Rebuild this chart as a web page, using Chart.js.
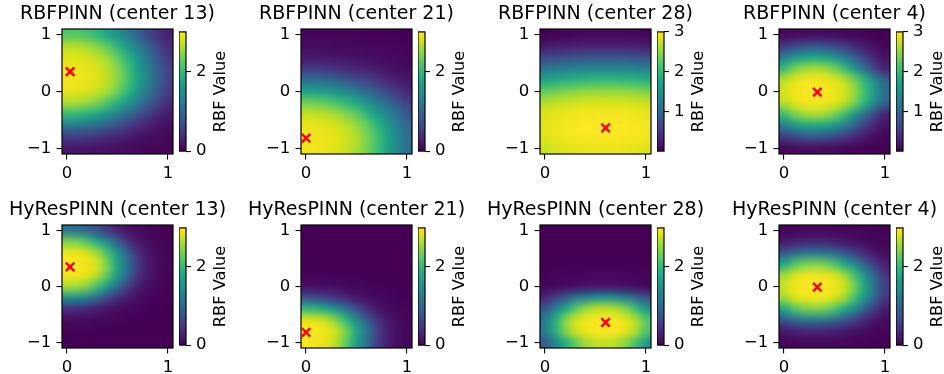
<!DOCTYPE html>
<html>
<head>
<meta charset="utf-8">
<script src="https://cdn.jsdelivr.net/npm/chart.js@4.4.1/dist/chart.umd.min.js"></script>
<style>
  body { margin: 0; background: #fff; }
  #fig { position: relative; width: 944px; height: 374px; overflow: hidden; background: #fff; }
  #fig canvas { position: absolute; }
</style>
</head>
<body>
<div id="fig"></div>
<script>
// cell centres of the 11 x 11 grids (rows go from y = 1 down to y = -1)
var xCells = [0, 0.1, 0.2, 0.3, 0.4, 0.5, 0.6, 0.7, 0.8, 0.9, 1];
var yCells = [1, 0.8, 0.6, 0.4, 0.2, 0, -0.2, -0.4, -0.6, -0.8, -1];
var xTicks = [0, 1];
var yTicks = [-1, 0, 1];

var models = ['RBFPINN', 'HyResPINN'];
var centerIds = [13, 21, 28, 4];
var centerX = [0.03, 0.0, 0.6, 0.33];
var centerY = [0.35, -0.82, -0.64, -0.01];

// colorbar ranges and ticks, per row
var cbMin = [[0, 0, 0.024, 0.02], [0, 0, 0, 0]];
var cbMax = [[3.0, 3.0, 3.0, 3.0], [2.99, 2.99, 2.99, 2.99]];
var cbTicks = [[[0, 2], [0, 2], [1, 2, 3], [1, 2, 3]], [[0, 2], [0, 2], [0, 2], [0, 2]]];

// RBF values
var rbf13 = [
  [2.2, 2.2, 2.1, 1.96, 1.74, 1.48, 1.22, 0.94, 0.64, 0.42, 0.26],
  [2.66, 2.65, 2.57, 2.43, 2.22, 1.94, 1.6, 1.27, 0.94, 0.62, 0.38],
  [2.85, 2.84, 2.8, 2.7, 2.53, 2.27, 1.92, 1.52, 1.16, 0.8, 0.5],
  [2.94, 2.93, 2.9, 2.81, 2.68, 2.44, 2.1, 1.69, 1.3, 0.92, 0.58],
  [2.95, 2.94, 2.91, 2.83, 2.7, 2.47, 2.13, 1.73, 1.32, 0.94, 0.6],
  [2.87, 2.86, 2.82, 2.73, 2.57, 2.31, 1.96, 1.56, 1.19, 0.83, 0.52],
  [2.62, 2.6, 2.52, 2.39, 2.16, 1.89, 1.56, 1.24, 0.91, 0.6, 0.37],
  [1.99, 1.97, 1.88, 1.73, 1.53, 1.31, 1.06, 0.79, 0.55, 0.36, 0.21],
  [1.21, 1.19, 1.13, 1.03, 0.88, 0.71, 0.55, 0.38, 0.27, 0.18, 0.11],
  [0.54, 0.53, 0.49, 0.43, 0.36, 0.29, 0.22, 0.17, 0.11, 0.08, 0.06],
  [0.18, 0.18, 0.17, 0.15, 0.13, 0.11, 0.09, 0.07, 0.05, 0.04, 0.03]
];
var rbf21 = [
  [0.04, 0.04, 0.03, 0.03, 0.03, 0.03, 0.02, 0.02, 0.02, 0.01, 0.01],
  [0.09, 0.08, 0.08, 0.07, 0.07, 0.06, 0.05, 0.04, 0.04, 0.03, 0.02],
  [0.2, 0.2, 0.19, 0.18, 0.16, 0.14, 0.12, 0.1, 0.08, 0.07, 0.05],
  [0.51, 0.5, 0.47, 0.43, 0.37, 0.33, 0.27, 0.21, 0.17, 0.12, 0.09],
  [1.07, 1.06, 1.01, 0.93, 0.82, 0.7, 0.58, 0.46, 0.35, 0.26, 0.18],
  [1.71, 1.69, 1.62, 1.51, 1.39, 1.23, 1.05, 0.86, 0.64, 0.48, 0.35],
  [2.35, 2.33, 2.25, 2.13, 1.97, 1.77, 1.53, 1.3, 1.05, 0.8, 0.57],
  [2.73, 2.71, 2.67, 2.59, 2.43, 2.26, 1.98, 1.68, 1.39, 1.1, 0.81],
  [2.9, 2.9, 2.85, 2.79, 2.69, 2.52, 2.3, 1.98, 1.64, 1.32, 1.01],
  [2.95, 2.94, 2.92, 2.87, 2.77, 2.65, 2.41, 2.11, 1.77, 1.41, 1.1],
  [2.94, 2.93, 2.9, 2.84, 2.75, 2.61, 2.38, 2.08, 1.74, 1.39, 1.07]
];
var rbf28 = [
  [0.03, 0.05, 0.06, 0.07, 0.08, 0.08, 0.08, 0.08, 0.08, 0.07, 0.06],
  [0.22, 0.25, 0.27, 0.29, 0.3, 0.3, 0.3, 0.3, 0.3, 0.29, 0.27],
  [0.65, 0.7, 0.74, 0.77, 0.79, 0.81, 0.81, 0.81, 0.79, 0.77, 0.74],
  [1.19, 1.25, 1.31, 1.35, 1.38, 1.39, 1.4, 1.39, 1.38, 1.35, 1.31],
  [1.74, 1.82, 1.89, 1.94, 1.97, 2.0, 2.0, 2.0, 1.97, 1.94, 1.89],
  [2.27, 2.36, 2.42, 2.47, 2.51, 2.52, 2.53, 2.52, 2.51, 2.47, 2.42],
  [2.65, 2.71, 2.76, 2.79, 2.82, 2.83, 2.83, 2.83, 2.82, 2.79, 2.76],
  [2.82, 2.87, 2.9, 2.93, 2.95, 2.96, 2.96, 2.96, 2.95, 2.93, 2.9],
  [2.87, 2.93, 2.96, 2.98, 2.99, 3.0, 3.0, 3.0, 2.99, 2.98, 2.96],
  [2.86, 2.91, 2.95, 2.97, 2.98, 2.99, 2.99, 2.99, 2.98, 2.97, 2.95],
  [2.76, 2.81, 2.85, 2.88, 2.9, 2.91, 2.91, 2.91, 2.9, 2.88, 2.85]
];
var rbf4 = [
  [0.08, 0.1, 0.11, 0.12, 0.11, 0.1, 0.08, 0.06, 0.04, 0.03, 0.02],
  [0.52, 0.66, 0.77, 0.81, 0.77, 0.66, 0.52, 0.36, 0.22, 0.13, 0.07],
  [1.28, 1.55, 1.72, 1.78, 1.72, 1.55, 1.28, 0.93, 0.58, 0.32, 0.16],
  [2.05, 2.38, 2.56, 2.62, 2.56, 2.38, 2.05, 1.58, 1.1, 0.63, 0.31],
  [2.68, 2.85, 2.93, 2.95, 2.93, 2.85, 2.68, 2.37, 1.92, 1.41, 0.95],
  [2.8, 2.93, 2.98, 3.0, 2.98, 2.93, 2.8, 2.52, 2.08, 1.56, 1.07],
  [2.68, 2.85, 2.93, 2.95, 2.93, 2.85, 2.68, 2.37, 1.92, 1.41, 0.95],
  [2.05, 2.38, 2.56, 2.62, 2.56, 2.38, 2.05, 1.58, 1.1, 0.63, 0.31],
  [1.28, 1.55, 1.72, 1.78, 1.72, 1.55, 1.28, 0.93, 0.58, 0.32, 0.16],
  [0.52, 0.66, 0.77, 0.81, 0.77, 0.66, 0.52, 0.36, 0.22, 0.13, 0.07],
  [0.08, 0.1, 0.11, 0.12, 0.11, 0.1, 0.08, 0.06, 0.04, 0.03, 0.02]
];
var hy13 = [
  [1.13, 1.1, 0.96, 0.74, 0.5, 0.3, 0.16, 0.09, 0.05, 0.02, 0.01],
  [2.4, 2.35, 2.15, 1.8, 1.38, 0.9, 0.46, 0.22, 0.1, 0.04, 0.02],
  [2.9, 2.88, 2.78, 2.55, 2.1, 1.5, 0.9, 0.42, 0.18, 0.08, 0.03],
  [2.98, 2.97, 2.92, 2.78, 2.38, 1.75, 1.1, 0.52, 0.22, 0.09, 0.04],
  [2.94, 2.92, 2.84, 2.64, 2.2, 1.6, 0.98, 0.45, 0.2, 0.08, 0.03],
  [2.6, 2.56, 2.4, 2.05, 1.58, 1.05, 0.56, 0.26, 0.11, 0.05, 0.02],
  [1.5, 1.45, 1.3, 1.0, 0.68, 0.4, 0.22, 0.11, 0.05, 0.02, 0.01],
  [0.4, 0.38, 0.33, 0.26, 0.17, 0.11, 0.07, 0.04, 0.02, 0.01, 0],
  [0.09, 0.09, 0.08, 0.06, 0.04, 0.03, 0.02, 0.01, 0, 0, 0],
  [0.02, 0.02, 0.02, 0.01, 0.01, 0, 0, 0, 0, 0, 0],
  [0, 0, 0, 0, 0, 0, 0, 0, 0, 0, 0]
];
var hy21 = [
  [0, 0, 0, 0, 0, 0, 0, 0, 0, 0, 0],
  [0, 0, 0, 0, 0, 0, 0, 0, 0, 0, 0],
  [0, 0, 0, 0, 0, 0, 0, 0, 0, 0, 0],
  [0, 0, 0, 0, 0, 0, 0, 0, 0, 0, 0],
  [0.03, 0.03, 0.02, 0.02, 0.01, 0.01, 0, 0, 0, 0, 0],
  [0.14, 0.13, 0.12, 0.1, 0.07, 0.05, 0.03, 0.02, 0.01, 0.01, 0],
  [0.7, 0.66, 0.57, 0.44, 0.31, 0.2, 0.12, 0.07, 0.04, 0.02, 0.01],
  [2.0, 1.92, 1.74, 1.46, 1.1, 0.72, 0.4, 0.21, 0.1, 0.05, 0.03],
  [2.85, 2.82, 2.68, 2.4, 1.95, 1.42, 0.9, 0.46, 0.22, 0.1, 0.05],
  [2.98, 2.96, 2.9, 2.74, 2.35, 1.78, 1.18, 0.62, 0.28, 0.12, 0.06],
  [2.95, 2.93, 2.85, 2.65, 2.22, 1.65, 1.08, 0.56, 0.25, 0.11, 0.06]
];
var hy28 = [
  [0, 0, 0, 0, 0, 0, 0, 0, 0, 0, 0],
  [0, 0, 0, 0, 0, 0, 0, 0, 0, 0, 0],
  [0, 0, 0, 0, 0, 0, 0, 0, 0, 0, 0],
  [0, 0, 0, 0, 0, 0, 0, 0, 0, 0, 0],
  [0.02, 0.03, 0.04, 0.05, 0.06, 0.07, 0.07, 0.07, 0.06, 0.05, 0.04],
  [0.04, 0.06, 0.09, 0.12, 0.15, 0.17, 0.17, 0.16, 0.14, 0.1, 0.07],
  [0.31, 0.55, 0.84, 1.12, 1.33, 1.46, 1.49, 1.42, 1.25, 1.01, 0.71],
  [0.8, 1.3, 1.8, 2.22, 2.52, 2.68, 2.7, 2.62, 2.42, 2.05, 1.58],
  [1.25, 1.85, 2.4, 2.75, 2.9, 2.96, 2.97, 2.95, 2.85, 2.62, 2.18],
  [1.25, 1.85, 2.4, 2.75, 2.9, 2.96, 2.97, 2.95, 2.85, 2.62, 2.18],
  [0.85, 1.35, 1.85, 2.25, 2.55, 2.7, 2.72, 2.65, 2.45, 2.1, 1.6]
];
var hy4 = [
  [0.05, 0.06, 0.07, 0.07, 0.07, 0.06, 0.05, 0.04, 0.03, 0.02, 0.01],
  [0.2, 0.26, 0.31, 0.32, 0.31, 0.26, 0.2, 0.14, 0.1, 0.06, 0.04],
  [0.79, 1.0, 1.14, 1.19, 1.14, 1.0, 0.79, 0.56, 0.33, 0.18, 0.1],
  [1.8, 2.15, 2.35, 2.4, 2.35, 2.15, 1.8, 1.38, 0.92, 0.5, 0.25],
  [2.55, 2.8, 2.9, 2.92, 2.9, 2.8, 2.55, 2.08, 1.5, 0.93, 0.46],
  [2.75, 2.92, 2.97, 2.98, 2.97, 2.92, 2.75, 2.35, 1.72, 1.1, 0.58],
  [2.55, 2.8, 2.9, 2.92, 2.9, 2.8, 2.55, 2.08, 1.5, 0.93, 0.46],
  [1.8, 2.15, 2.35, 2.4, 2.35, 2.15, 1.8, 1.38, 0.92, 0.5, 0.25],
  [0.79, 1.0, 1.14, 1.19, 1.14, 1.0, 0.79, 0.56, 0.33, 0.18, 0.1],
  [0.2, 0.26, 0.31, 0.32, 0.31, 0.26, 0.2, 0.14, 0.1, 0.06, 0.04],
  [0.05, 0.06, 0.07, 0.07, 0.07, 0.06, 0.05, 0.04, 0.03, 0.02, 0.01]
];
var panelGrids = [[rbf13, rbf21, rbf28, rbf4], [hy13, hy21, hy28, hy4]];

// layout of the figure
var colLeft = [62, 301, 540, 779];
var rowTop = [29, 225];
var rowH = [125, 123];
var plotW = 111;
var cbGap = 117, cbW = 7;

var viridis = ['#440154', '#471365', '#482475', '#463480', '#414487', '#3b528b', '#355f8d',
  '#2f6c8e', '#2a788e', '#25848e', '#21918c', '#1e9c89', '#22a884', '#2fb47c', '#44bf70',
  '#5ec962', '#7ad151', '#9bd93c', '#bddf26', '#dfe318', '#fde725'];
var virRgb = viridis.map(function(h) {
  return [parseInt(h.substr(1, 2), 16), parseInt(h.substr(3, 2), 16), parseInt(h.substr(5, 2), 16)];
});
function colorAt(t) {
  t = Math.max(0, Math.min(1, t)) * (virRgb.length - 1);
  var i = Math.min(Math.floor(t), virRgb.length - 2), f = t - i;
  return [0, 1, 2].map(function(k) { return Math.round(virRgb[i][k] + (virRgb[i + 1][k] - virRgb[i][k]) * f); });
}

Chart.defaults.font.family = "'DejaVu Sans', sans-serif";
Chart.defaults.color = '#000';

var fig = document.getElementById('fig');
var halfX = (xCells[1] - xCells[0]) / 2;
var halfY = (yCells[0] - yCells[1]) / 2;
var tickFont = { size: 16.5 };

function fmt(v) { return v < 0 ? '\u2212' + Math.abs(v) : String(v); }

function addCanvas(left, top, w, h) {
  var c = document.createElement('canvas');
  c.width = w; c.height = h;
  c.style.left = left + 'px'; c.style.top = top + 'px';
  c.style.width = w + 'px'; c.style.height = h + 'px';
  fig.appendChild(c);
  return c;
}

// draws the grid as an image (bilinear) into the data extent, then the frame
function heatPlugin(grid, vmin, vmax) {
  return {
    id: 'heat',
    beforeDatasetsDraw: function(chart) {
      var rows = grid.length, cols = grid[0].length;
      var off = document.createElement('canvas');
      off.width = cols; off.height = rows;
      var octx = off.getContext('2d');
      var img = octx.createImageData(cols, rows);
      for (var r = 0; r < rows; r++) {
        for (var c = 0; c < cols; c++) {
          var rgb = colorAt((grid[r][c] - vmin) / (vmax - vmin));
          var k = (r * cols + c) * 4;
          img.data[k] = rgb[0]; img.data[k + 1] = rgb[1]; img.data[k + 2] = rgb[2]; img.data[k + 3] = 255;
        }
      }
      octx.putImageData(img, 0, 0);
      var xs = chart.scales.x, ys = chart.scales.y;
      var x0 = xs.getPixelForValue(xCells[0] - halfX), x1 = xs.getPixelForValue(xCells[cols - 1] + halfX);
      var y0 = ys.getPixelForValue(yCells[0] + halfY), y1 = ys.getPixelForValue(yCells[rows - 1] - halfY);
      var ctx = chart.ctx, a = chart.chartArea;
      ctx.save();
      ctx.imageSmoothingEnabled = true;
      ctx.imageSmoothingQuality = 'high';
      ctx.drawImage(off, x0, y0, x1 - x0, y1 - y0);
      ctx.strokeStyle = '#000';
      ctx.lineWidth = 1.2;
      ctx.strokeRect(a.left, a.top, a.right - a.left, a.bottom - a.top);
      ctx.restore();
    }
  };
}

function barPlugin(vmin, vmax) {
  return {
    id: 'bar',
    afterDraw: function(chart) {
      var ctx = chart.ctx, a = chart.chartArea;
      var g = ctx.createLinearGradient(0, a.bottom, 0, a.top);
      viridis.forEach(function(col, i) { g.addColorStop(i / (viridis.length - 1), col); });
      ctx.save();
      ctx.fillStyle = g;
      ctx.fillRect(a.left, a.top, a.right - a.left, a.bottom - a.top);
      ctx.strokeStyle = '#000';
      ctx.lineWidth = 1.2;
      ctx.strokeRect(a.left, a.top, a.right - a.left, a.bottom - a.top);
      // colorbar label, reading bottom to top
      ctx.translate(a.right + 35, (a.top + a.bottom) / 2);
      ctx.rotate(-Math.PI / 2);
      ctx.fillStyle = '#000';
      ctx.font = "16.2px 'DejaVu Sans'";
      ctx.textAlign = 'center';
      ctx.textBaseline = 'middle';
      ctx.fillText('RBF Value', 0, 0);
      ctx.restore();
    }
  };
}

function makePanel(row, col) {
  var ph = rowH[row];
  var W = 57 + plotW + 57, H = 30 + ph + 34;
  var cv = addCanvas(colLeft[col] - 57, rowTop[row] - 30, W, H);
  new Chart(cv, {
    type: 'scatter',
    data: {
      datasets: [{
        data: [{ x: centerX[col], y: centerY[col] }],
        pointStyle: 'crossRot',
        pointRadius: 6,
        borderColor: '#ff0000',
        backgroundColor: '#ff0000',
        borderWidth: 2.5
      }]
    },
    options: {
      responsive: false,
      animation: false,
      devicePixelRatio: 1,
      events: [],
      layout: { padding: 0 },
      plugins: {
        legend: { display: false },
        tooltip: { enabled: false },
        title: {
          display: true,
          text: models[row] + ' (center ' + centerIds[col] + ')',
          font: { size: 19, weight: 'normal' },
          color: '#000',
          padding: { top: 3.6, bottom: 3.6 }
        }
      },
      scales: {
        x: {
          type: 'linear',
          min: xCells[0] - halfX,
          max: xCells[xCells.length - 1] + halfX,
          afterBuildTicks: function(s) { s.ticks = xTicks.map(function(v) { return { value: v }; }); },
          afterFit: function(s) { s.height = 34; },
          grid: { drawOnChartArea: false, drawTicks: true, tickLength: 5.5, color: '#000', lineWidth: 1.1 },
          border: { display: false },
          ticks: { font: tickFont, color: '#000', padding: 4.6, maxRotation: 0, autoSkip: false, callback: fmt }
        },
        y: {
          type: 'linear',
          min: yCells[yCells.length - 1] - halfY,
          max: yCells[0] + halfY,
          afterBuildTicks: function(s) { s.ticks = yTicks.map(function(v) { return { value: v }; }); },
          afterFit: function(s) { s.width = 57; },
          grid: { drawOnChartArea: false, drawTicks: true, tickLength: 5.5, color: '#000', lineWidth: 1.1 },
          border: { display: false },
          ticks: { font: tickFont, color: '#000', padding: 5.2, autoSkip: false, callback: fmt }
        },
        yr: {
          type: 'linear',
          position: 'right',
          display: true,
          ticks: { display: false },
          grid: { display: false },
          border: { display: false },
          afterFit: function(s) { s.width = 57; }
        }
      }
    },
    plugins: [heatPlugin(panelGrids[row][col], cbMin[row][col], cbMax[row][col])]
  });
}

function makeColorbar(row, col) {
  var ph = rowH[row];
  var cv = addCanvas(colLeft[col] + cbGap, rowTop[row] - 12, cbW + 60, ph + 24);
  var ticks = cbTicks[row][col];
  new Chart(cv, {
    type: 'scatter',
    data: { datasets: [] },
    options: {
      responsive: false,
      animation: false,
      devicePixelRatio: 1,
      events: [],
      layout: { padding: { top: 12, bottom: 12, left: 0, right: 0 } },
      plugins: { legend: { display: false }, tooltip: { enabled: false } },
      scales: {
        x: { type: 'linear', display: false },
        y: {
          type: 'linear',
          position: 'right',
          min: cbMin[row][col],
          max: cbMax[row][col],
          afterBuildTicks: function(s) { s.ticks = ticks.map(function(v) { return { value: v }; }); },
          afterFit: function(s) { s.width = 60; },
          grid: { drawOnChartArea: false, drawTicks: true, tickLength: 5, color: '#000', lineWidth: 1.1 },
          border: { display: false },
          ticks: { font: tickFont, color: '#000', padding: 5, autoSkip: false, callback: fmt }
        }
      }
    },
    plugins: [barPlugin(cbMin[row][col], cbMax[row][col])]
  });
}

for (var r = 0; r < 2; r++) {
  for (var c = 0; c < 4; c++) {
    makePanel(r, c);
    makeColorbar(r, c);
  }
}
</script>
</body>
</html>
